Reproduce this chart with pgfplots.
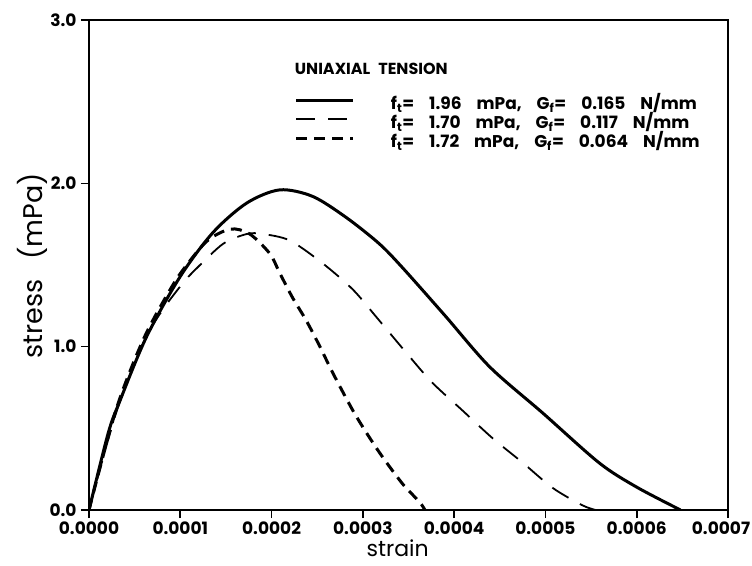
\documentclass[border=0pt]{standalone}
\usepackage{fontspec}
\setmainfont{Poppins}
\usepackage{pgfplots}
\pgfplotsset{compat=1.18}
\newcommand{\gp}{\hspace{15pt}}
\begin{document}
\begin{tikzpicture}
\begin{axis}[
  scale only axis,
  width=639pt, height=490pt,
  xmin=0, xmax=0.0007, ymin=0, ymax=3.0,
  axis line style={line width=2.2pt},
  xtick={0,0.0001,0.0002,0.0003,0.0004,0.0005,0.0006,0.0007},
  xticklabels={0.0000,0.0001,0.0002,0.0003,0.0004,0.0005,0.0006,\hspace{-14pt}0.0007},
  ytick={0,1,2,3},
  yticklabels={0.0,1.0,2.0,3.0},
  scaled x ticks=false,
  xtick pos=bottom, ytick pos=left,
  tick align=outside,
  major tick length=8pt,
  tick style={line width=1.6pt, black},
  tick label style={font=\fontsize{17}{17}\selectfont\bfseries},
  xticklabel style={yshift=0pt, text depth=0pt},
  yticklabel style={xshift=-1pt},
  xlabel={strain},
  ylabel={stress\hspace{20pt}(mPa)},
  xlabel style={font=\fontsize{22}{22}\selectfont, inner sep=0pt, text depth=0pt,
    at={(axis description cs:0.483,-0.094)}, anchor=base},
  ylabel style={font=\fontsize{27}{27}\selectfont, at={(axis description cs:-0.089,0.498)}, anchor=center},
  legend cell align=left,
  legend style={draw=none, fill=none, inner sep=0pt, at={(rel axis cs:0.322,0.842)}, anchor=north west,
    font=\fontsize{17}{17}\selectfont\bfseries, row sep=5pt, column sep=36pt,
    nodes={inner sep=0pt, text height=12pt, text depth=2pt}},
  legend image code/.code={\draw[#1] (0pt,4.5pt) -- (57pt,4.5pt);},
]
\addplot[black, line width=3pt, smooth] coordinates {
(0,0) (0.000021,0.47) (0.000034,0.67) (0.000063,1.06) (0.0001,1.43)
(0.000136,1.70) (0.000173,1.88) (0.000209,1.96) (0.000245,1.92)
(0.000282,1.79) (0.000318,1.63) (0.000344,1.48) (0.00039,1.19)
(0.000439,0.876) (0.000497,0.594) (0.000559,0.288) (0.0006,0.14) (0.000648,0.0)
};
\addlegendentry{f\textsubscript{t}=\gp 1.96\gp mPa,\gp G\textsubscript{f}=\gp 0.165\gp N/mm}
\addplot[black, line width=1.8pt, dash pattern=on 19pt off 13pt, smooth] coordinates {
(0,0) (0.00003,0.6) (0.00006,1.03) (0.00008,1.22) (0.000103,1.39)
(0.000118,1.48) (0.000147,1.63) (0.000173,1.69) (0.00019,1.69)
(0.00022,1.65) (0.000256,1.51) (0.000289,1.35) (0.000315,1.18)
(0.000348,0.96) (0.000376,0.78) (0.000409,0.61) (0.000442,0.44)
(0.000475,0.29) (0.000508,0.135) (0.00054,0.03) (0.000555,0)
};
\addlegendentry{f\textsubscript{t}=\gp 1.70\gp mPa,\gp G\textsubscript{f}=\gp 0.117\gp N/mm}
\addplot[black, line width=3pt, dash pattern=on 11pt off 7pt, smooth] coordinates {
(0,0) (0.00003,0.62) (0.00006,1.05) (0.00009,1.36) (0.000107,1.50)
(0.00013,1.65) (0.000155,1.72) (0.000176,1.69) (0.000198,1.57)
(0.000209,1.45) (0.000223,1.30) (0.000238,1.16) (0.000253,1.00)
(0.000267,0.84) (0.00029,0.60) (0.00031,0.42) (0.000326,0.29)
(0.000345,0.15) (0.000362,0.05) (0.000368,0)
};
\addlegendentry{f\textsubscript{t}=\gp 1.72\gp mPa,\gp G\textsubscript{f}=\gp 0.064\gp N/mm}
\node[anchor=west, inner sep=0pt, font=\fontsize{16}{16}\selectfont\bfseries] at (rel axis cs:0.322,0.900) {UNIAXIAL\hspace{8pt}TENSION};
\end{axis}
\pgfresetboundingbox
\path[use as bounding box] (-89pt,-55pt) rectangle (663pt,510pt);
\end{tikzpicture}
\end{document}
